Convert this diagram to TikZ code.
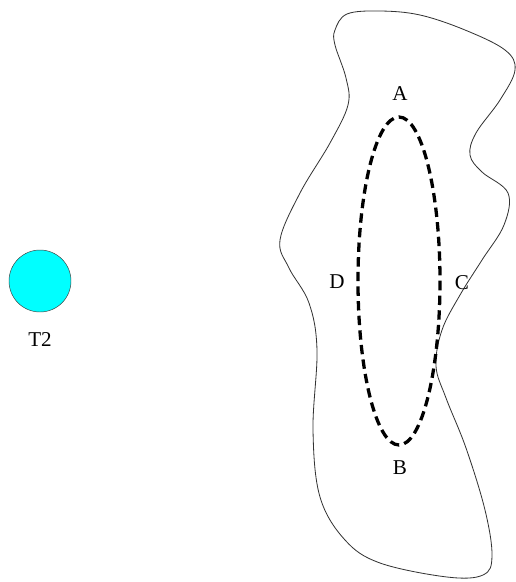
\documentclass[tikz,border=0pt]{standalone}
\usepackage{fontspec}
\setmainfont{Liberation Serif}
\usetikzlibrary{positioning}
\definecolor{tcyan}{RGB}{0,255,255}
\newlength{\pxu}
\setlength{\pxu}{0.03cm}
\tikzset{
  target/.style={circle, draw=black!75, thin, fill=tcyan, minimum size=62\pxu, inner sep=0pt},
  zone/.style={draw=black!80, line width=0.7pt},
  route/.style={draw=black, line width=2.8pt, dash pattern=on 8pt off 4.5pt},
  lbl/.style={font=\fontsize{18}{20}\selectfont, inner sep=1pt},
}

\begin{document}
\begin{tikzpicture}[x=0.03cm, y=-0.03cm]
\useasboundingbox (0,0) rectangle (516,582);

% ---- the target on the left ----
\node[target] (t2) at (40,281) {};
\node[lbl, below=19\pxu of t2] (t2lbl) {T2};

% ---- outline of the region ----
\draw[zone] plot[smooth cycle, tension=0.6] coordinates {
  (335,30) (347,14) (380,11) (420,15) (465,30) (505,50) (515,70) (500,100)
  (476,133) (470,155) (482,172) (508,193) (504,225) (482,260) (460,295)
  (442,330) (436,366) (446,398) (466,448) (485,510) (492,556) (483,575)
  (447,577) (380,563) (345,540) (320,497) (313,430) (317,350) (309,303)
  (289,268) (280,240) (300,193) (330,143) (348,105) (346,78) (335,45)};

% ---- dashed ellipse and its four marks ----
\draw[route] (399,281) ellipse [x radius=41, y radius=164];
\node[lbl] (a) at (400,94) {A};
\node[lbl] (b) at (400,468) {B};
\node[lbl] (d) at (337,282) {D};
\node[lbl] (c) at (462,283) {C};

\end{tikzpicture}
\end{document}
